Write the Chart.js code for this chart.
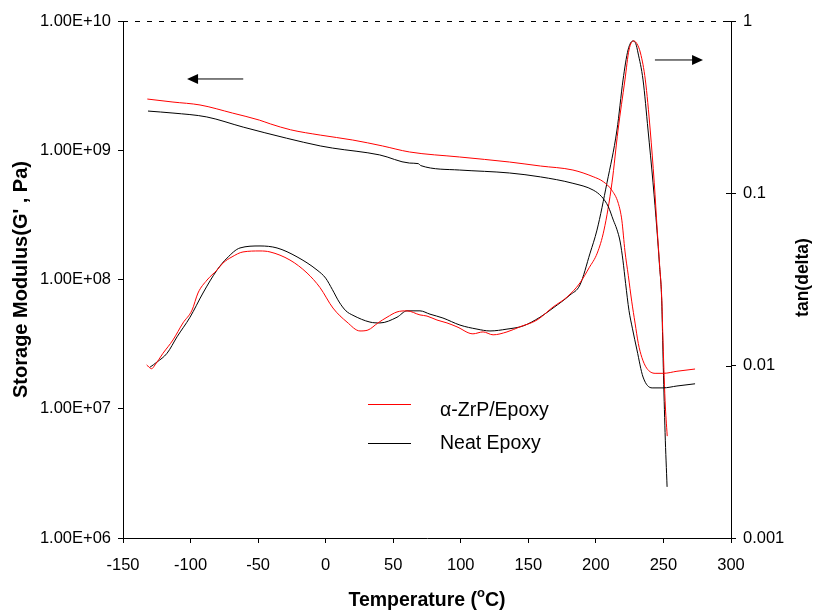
<!DOCTYPE html>
<html>
<head>
<meta charset="utf-8">
<script src="https://cdn.jsdelivr.net/npm/chart.js@4.4.1/dist/chart.umd.min.js"></script>
<style>
  html, body { margin: 0; padding: 0; background: #fff; }
</style>
</head>
<body>
<canvas id="dmaChart" width="819" height="613"></canvas>
<script>
const FONT = 'Arial, "Liberation Sans", Helvetica, sans-serif';

const seriesNames = ['\u03B1-ZrP/Epoxy', 'Neat Epoxy'];
const seriesColors = ['#ff0000', '#000000'];

// storage modulus G' (Pa)
const zrpModT = [-132, -113, -93, -69, -49, -41, -26, -4, 20, 42, 62, 99, 136, 159, 183, 198, 205.5, 211.7, 216.6, 219.2, 221.5, 224, 226.5, 229, 231.4, 234, 237.6, 243.8, 250, 260, 273.4];
const zrpMod = [2.49e9, 2.36e9, 2.24e9, 1.94e9, 1.71e9, 1.60e9, 1.44e9, 1.31e9, 1.20e9, 1.08e9, 9.7e8, 8.87e8, 8.11e8, 7.55e8, 7.03e8, 6.24e8, 5.71e8, 4.92e8, 3.88e8, 2.88e8, 1.66e8, 1.07e8, 6.8e7, 4.6e7, 3.2e7, 2.5e7, 2.06e7, 1.88e7, 1.88e7, 1.95e7, 2.03e7];
const neatModT = [-131.5, -113, -88, -61, -29, -4, 5, 40, 62, 68.5, 70.5, 99, 136, 159, 183, 198, 204.3, 209.2, 212.9, 215.5, 218, 220, 222, 224.5, 227, 230.4, 234.9, 241.6, 249.7, 260, 273.4];
const neatMod = [2.01e9, 1.94e9, 1.81e9, 1.51e9, 1.24e9, 1.08e9, 1.04e9, 9.2e8, 7.96e8, 7.88e8, 7.6e8, 7.03e8, 6.67e8, 6.22e8, 5.55e8, 4.92e8, 4.37e8, 3.66e8, 2.88e8, 2.45e8, 1.95e8, 1.41e8, 9.3e7, 5.75e7, 4.2e7, 2.85e7, 1.76e7, 1.45e7, 1.45e7, 1.5e7, 1.56e7];

// tan(delta)
const zrpTanT = [-132.5, -128.8, -126.3, -120.4, -113, -105.6, -98.9, -94.5, -87.8, -80.4, -76, -69.3, -61.2, -48.6, -41.2, -26.4, -13.8, -4.2, 5.4, 15.8, 25.4, 31.3, 38.7, 45.4, 52.8, 60.2, 69.8, 75, 82.4, 89.8, 97.2, 109, 116.5, 123.9, 134.2, 143.8, 156.4, 168.3, 178.6, 188.2, 195, 201, 206, 211.9, 216.4, 221.5, 224.5, 228, 230.3, 233, 236.6, 240.2, 243.2, 245.4, 247.2, 248.8, 249.5, 251.2, 252.8];
const zrpTan = [0.0101, 0.0096, 0.0101, 0.0118, 0.0141, 0.0177, 0.0210, 0.0264, 0.0314, 0.0359, 0.0394, 0.0428, 0.0457, 0.0463, 0.0457, 0.0410, 0.0345, 0.0284, 0.0216, 0.0179, 0.0159, 0.0161, 0.0177, 0.0191, 0.0205, 0.0208, 0.0197, 0.0194, 0.0184, 0.0177, 0.0168, 0.0153, 0.0157, 0.0151, 0.0157, 0.0168, 0.0184, 0.0219, 0.0250, 0.0302, 0.037, 0.045, 0.0612, 0.115, 0.233, 0.455, 0.679, 0.766, 0.74, 0.652, 0.455, 0.233, 0.115, 0.0612, 0.038, 0.024, 0.0154, 0.0063, 0.0039];
const neatTanT = [-130, -124.8, -117.4, -110, -100.4, -90.8, -80.4, -73, -63.4, -48.6, -36, -21.2, -6.4, 0, 5, 10, 15, 20.2, 32.8, 40.2, 52.8, 60.2, 69.8, 77.2, 86.8, 99.4, 112, 121.6, 134.2, 146.1, 158.6, 168.3, 180.8, 188.2, 195.7, 200.8, 208.2, 215.6, 220.1, 223.8, 227.5, 229.5, 231.2, 234.9, 238.6, 242.3, 245.2, 247, 248.7, 249.9, 251.2, 252.7];
const neatTan = [0.0098, 0.0105, 0.0118, 0.0147, 0.0191, 0.0264, 0.0359, 0.0421, 0.0482, 0.0495, 0.0482, 0.0428, 0.0359, 0.0322, 0.0276, 0.0234, 0.0208, 0.0196, 0.0179, 0.0177, 0.0191, 0.0208, 0.0208, 0.0199, 0.0189, 0.0172, 0.0163, 0.0159, 0.0163, 0.0170, 0.0191, 0.0216, 0.0257, 0.0294, 0.045, 0.0612, 0.115, 0.233, 0.455, 0.679, 0.766, 0.74, 0.652, 0.455, 0.233, 0.115, 0.0612, 0.039, 0.024, 0.0098, 0.0041, 0.00198];

const tempTicks = [-150, -100, -50, 0, 50, 100, 150, 200, 250, 300];
const modTicks = [1e6, 1e7, 1e8, 1e9, 1e10];
const tanTicks = [0.001, 0.01, 0.1, 1];

const toPoints = (xs, ys) => xs.map((x, i) => ({ x: x, y: ys[i] }));

function sciLabel(v) {
    const e = Math.round(Math.log10(v));
    return '1.00E+' + String(e).padStart(2, '0');
}

function lineSet(label, xs, ys, color, axis) {
    return {
        label: label,
        data: toPoints(xs, ys),
        yAxisID: axis,
        borderColor: color,
        backgroundColor: color,
        borderWidth: 1,
        pointRadius: 0,
        fill: false,
        cubicInterpolationMode: 'monotone',
    };
}

function drawArrow(ctx, x1, y, x2) {
    const dir = Math.sign(x2 - x1);
    ctx.beginPath();
    ctx.moveTo(x1, y);
    ctx.lineTo(x2 - dir * 10, y);
    ctx.stroke();
    ctx.beginPath();
    ctx.moveTo(x2, y);
    ctx.lineTo(x2 - dir * 11, y - 5);
    ctx.lineTo(x2 - dir * 11, y + 5);
    ctx.closePath();
    ctx.fill();
}

// frame details, arrows, legend and the titles Chart.js can't lay out
const decorPlugin = {
    id: 'dmaDecor',
    afterDraw(chart) {
        const { ctx, chartArea: a, scales } = chart;
        ctx.save();
        ctx.strokeStyle = '#000';
        ctx.fillStyle = '#000';
        ctx.lineWidth = 1;

        // dashed top edge
        ctx.setLineDash([5, 7]);
        ctx.beginPath();
        ctx.moveTo(a.left, a.top + 0.5);
        ctx.lineTo(a.right, a.top + 0.5);
        ctx.stroke();
        ctx.setLineDash([]);

        // right-axis ticks cross the axis line
        tanTicks.forEach(v => {
            const y = Math.round(scales.y1.getPixelForValue(v)) + 0.5;
            ctx.beginPath();
            ctx.moveTo(a.right - 5, y);
            ctx.lineTo(a.right, y);
            ctx.stroke();
        });

        // arrows pointing at the axis each pair of curves belongs to
        const yl = scales.y.getPixelForValue(3.56e9);
        drawArrow(ctx, scales.x.getPixelForValue(-61), yl, scales.x.getPixelForValue(-102.6));
        const yr = scales.y1.getPixelForValue(0.594);
        drawArrow(ctx, scales.x.getPixelForValue(243.7), yr, scales.x.getPixelForValue(279.3));

        // legend
        ctx.font = '19.5px ' + FONT;
        ctx.textBaseline = 'middle';
        ctx.textAlign = 'left';
        const rows = [{ line: 404.5, text: 411 }, { line: 443.5, text: 444 }];
        rows.forEach((r, i) => {
            ctx.strokeStyle = seriesColors[i];
            ctx.beginPath();
            ctx.moveTo(368, r.line);
            ctx.lineTo(411, r.line);
            ctx.stroke();
            ctx.fillStyle = '#000';
            ctx.fillText(seriesNames[i], 440, r.text);
        });

        // x title with superscript degree "o"
        ctx.fillStyle = '#000';
        ctx.textBaseline = 'alphabetic';
        const big = 'bold 19.5px ' + FONT;
        const small = 'bold 13px ' + FONT;
        const parts = [['Temperature (', big, 0], ['o', small, -9], ['C)', big, 0]];
        let total = 0;
        parts.forEach(p => { ctx.font = p[1]; total += ctx.measureText(p[0]).width; });
        let x = (a.left + a.right) / 2 - total / 2;
        parts.forEach(p => {
            ctx.font = p[1];
            ctx.fillText(p[0], x, 606 + p[2]);
            x += ctx.measureText(p[0]).width;
        });

        // right title reads bottom to top
        ctx.font = 'bold 17.5px ' + FONT;
        ctx.textAlign = 'center';
        ctx.textBaseline = 'middle';
        ctx.translate(803, 277.5);
        ctx.rotate(-Math.PI / 2);
        ctx.fillText('tan(delta)', 0, 0);
        ctx.restore();
    }
};

const tickFont = { family: FONT, size: 16.5 };

new Chart(document.getElementById('dmaChart'), {
    type: 'line',
    data: {
        datasets: [
            lineSet(seriesNames[0], zrpModT, zrpMod, seriesColors[0], 'y'),
            lineSet(seriesNames[1], neatModT, neatMod, seriesColors[1], 'y'),
            lineSet(seriesNames[0], zrpTanT, zrpTan, seriesColors[0], 'y1'),
            lineSet(seriesNames[1], neatTanT, neatTan, seriesColors[1], 'y1'),
        ],
    },
    options: {
        responsive: false,
        animation: false,
        layout: { padding: { top: 21, right: 0, bottom: 0, left: 0 } },
        plugins: {
            legend: { display: false },
            tooltip: { enabled: false },
        },
        scales: {
            x: {
                type: 'linear',
                min: -150,
                max: 300,
                afterBuildTicks: s => { s.ticks = tempTicks.map(v => ({ value: v })); },
                afterFit: s => { s.height = 75; },
                ticks: { color: '#000', font: tickFont, padding: 13, maxRotation: 0, callback: v => String(v) },
                grid: { drawOnChartArea: false, tickLength: 5, color: '#000' },
                border: { color: '#000', width: 1 },
            },
            y: {
                type: 'logarithmic',
                position: 'left',
                min: 1e6,
                max: 1e10,
                afterBuildTicks: s => { s.ticks = modTicks.map(v => ({ value: v })); },
                afterFit: s => { s.width = 123; },
                ticks: { color: '#000', font: tickFont, padding: 7, callback: v => sciLabel(v) },
                grid: { drawOnChartArea: false, tickLength: 5, color: '#000' },
                border: { color: '#000', width: 1 },
                title: {
                    display: true,
                    text: "Storage Modulus(G' , Pa)",
                    color: '#000',
                    font: { family: FONT, size: 20, weight: 'bold' },
                    padding: { top: 9, bottom: 0 },
                },
            },
            y1: {
                type: 'logarithmic',
                position: 'right',
                min: 0.001,
                max: 1,
                afterBuildTicks: s => { s.ticks = tanTicks.map(v => ({ value: v })); },
                afterFit: s => { s.width = 88; },
                ticks: { color: '#000', font: tickFont, padding: 7, callback: v => String(v) },
                grid: { drawOnChartArea: false, tickLength: 5, color: '#000' },
                border: { color: '#000', width: 1 },
            },
        },
    },
    plugins: [decorPlugin],
});
</script>
</body>
</html>
